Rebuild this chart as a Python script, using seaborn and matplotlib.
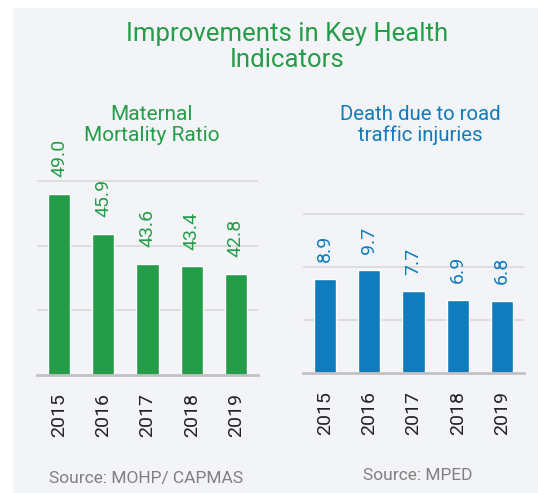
import matplotlib
matplotlib.use('Agg')
import matplotlib.pyplot as plt
import seaborn as sns
import pandas as pd
from matplotlib.patches import Rectangle

# data
years = ['2015', '2016', '2017', '2018', '2019']
maternal = [49.0, 45.9, 43.6, 43.4, 42.8]
road = [8.9, 9.7, 7.7, 6.9, 6.8]

GREEN = '#259d48'
BLUE = '#0f7cbd'
PANEL = '#f2f4f7'
AXISGREY = '#c2c2c2'

sns.set_style('white')
plt.rcParams['font.family'] = ['Roboto', 'DejaVu Sans']

W, H = 538, 493
fig = plt.figure(figsize=(W / 100, H / 100), dpi=100)
fig.patch.set_facecolor('white')
fig.patches.append(Rectangle((13 / W, 0), 1 - 13 / W, 1 - 8 / H, transform=fig.transFigure,
                             facecolor=PANEL, edgecolor='none', zorder=-10))


def px_axes(x0, x1, ybase, ytop):
    return fig.add_axes([x0 / W, (H - ybase) / H, (x1 - x0) / W, (ybase - ytop) / H])


def draw_panel(ax, vals, color, ylim, grid):
    df = pd.DataFrame({'year': years, 'value': vals})
    sns.barplot(data=df, x='year', y='value', color=color, saturation=1, width=0.5, ax=ax)
    ax.set_facecolor('none')
    ax.set_xlim(-0.5, len(years) - 0.5)
    ax.set_ylim(*ylim)
    ax.set_yticks(grid)
    ax.yaxis.grid(True, color='#d9d9d9', lw=1.2)
    ax.set_axisbelow(True)
    ax.tick_params(axis='y', length=0, labelleft=False)
    ax.set_xticks([i - 0.5 for i in range(len(years) + 1)], minor=True)
    ax.tick_params(axis='x', which='minor', length=8, width=2, color=AXISGREY)
    ax.tick_params(axis='x', which='major', length=0, pad=13, labelsize=14,
                   labelrotation=90, labelcolor='#222222')
    for s in ['top', 'right', 'left']:
        ax.spines[s].set_visible(False)
    ax.spines['bottom'].set_color(AXISGREY)
    ax.spines['bottom'].set_linewidth(2)
    ax.set_xlabel('')
    ax.set_ylabel('')
    ax.bar_label(ax.containers[0], labels=[f'{v:.1f}' for v in vals], rotation=90,
                 padding=12, color=color, fontsize=14)


ax1 = px_axes(37, 258, 375, 155)
draw_panel(ax1, maternal, GREEN, (35, 52), [40, 45, 50])

ax2 = px_axes(303, 524, 373, 193)
draw_panel(ax2, road, BLUE, (0, 17), [5, 10, 15])

fig.text(287 / W, 1 - 47 / H, 'Improvements in Key Health\nIndicators', ha='center', va='center',
         fontsize=18.5, color=GREEN, linespacing=1.15)
fig.text(152 / W, 1 - 125 / H, 'Maternal\nMortality Ratio', ha='center', va='center',
         fontsize=15, color=GREEN, linespacing=1.1)
fig.text(420 / W, 1 - 125 / H, 'Death due to road\ntraffic injuries', ha='center', va='center',
         fontsize=14.7, color=BLUE, linespacing=1.1)
fig.text(146 / W, 1 - 479 / H, 'Source: MOHP/ CAPMAS', ha='center', va='center',
         fontsize=12.5, color='#808080')
fig.text(418 / W, 1 - 475 / H, 'Source: MPED', ha='center', va='center',
         fontsize=12.5, color='#808080')

fig.savefig('out.png', dpi=100, facecolor=fig.get_facecolor())
